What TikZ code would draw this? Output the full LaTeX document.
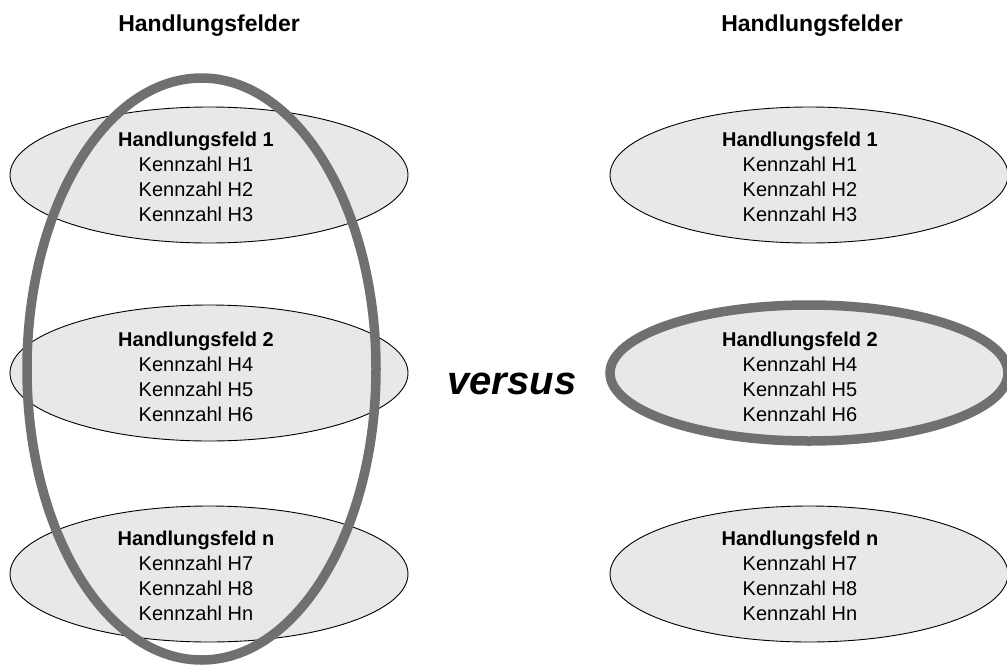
\documentclass[tikz,border=0pt]{standalone}
\usepackage{fontspec}
\setmainfont{Liberation Sans}
\usetikzlibrary{shapes.geometric}
\definecolor{fieldfill}{HTML}{E8E8E8}
\definecolor{markgray}{HTML}{707070}
\begin{document}
\begin{tikzpicture}[x=1pt,y=-1pt,
  field/.style={ellipse, draw=black, line width=0.9pt, fill=fieldfill,
    minimum width=398pt, minimum height=136pt, inner sep=0pt},
  fieldtext/.style={align=center, inner sep=0pt,
    font=\fontsize{20}{25}\selectfont},
  heading/.style={inner sep=0pt, font=\fontsize{23}{28}\selectfont\bfseries},
  marked/.style={draw=markgray, line width=9.5pt}]
\useasboundingbox (0,0) rectangle (1007,670);

% column headings
\node[heading] (hl) at (209,26) {Handlungsfelder};
\node[heading] (hr) at (812,26) {Handlungsfelder};

% left column of fields
\node[field] (l1) at (209,175) {};
\node[field] (l2) at (209,373) {};
\node[field] (l3) at (209,574) {};
\node[fieldtext] (l1t) at ([xshift=-13pt,yshift=-2pt]l1.center)
  {\textbf{Handlungsfeld 1}\\Kennzahl H1\\Kennzahl H2\\Kennzahl H3};
\node[fieldtext] (l2t) at ([xshift=-13pt,yshift=-4pt]l2.center)
  {\textbf{Handlungsfeld 2}\\Kennzahl H4\\Kennzahl H5\\Kennzahl H6};
\node[fieldtext] (l3t) at ([xshift=-13pt,yshift=-2pt]l3.center)
  {\textbf{Handlungsfeld n}\\Kennzahl H7\\Kennzahl H8\\Kennzahl Hn};

% grouping across all fields
\node[ellipse, marked, minimum width=349pt, minimum height=582pt,
  inner sep=0pt] (all) at (201.5,369) {};

% right column of fields
\node[field] (r1) at (809,175) {};
\node[field, marked] (r2) at (809,373) {};
\node[field] (r3) at (809,574) {};
\node[fieldtext] (r1t) at ([xshift=-9pt,yshift=-2pt]r1.center)
  {\textbf{Handlungsfeld 1}\\Kennzahl H1\\Kennzahl H2\\Kennzahl H3};
\node[fieldtext] (r2t) at ([xshift=-9pt,yshift=-4pt]r2.center)
  {\textbf{Handlungsfeld 2}\\Kennzahl H4\\Kennzahl H5\\Kennzahl H6};
\node[fieldtext] (r3t) at ([xshift=-9pt,yshift=-2pt]r3.center)
  {\textbf{Handlungsfeld n}\\Kennzahl H7\\Kennzahl H8\\Kennzahl Hn};

\node[inner sep=0pt, font=\fontsize{40}{48}\selectfont\bfseries\itshape]
  (vs) at (512,384) {versus};
\end{tikzpicture}
\end{document}
